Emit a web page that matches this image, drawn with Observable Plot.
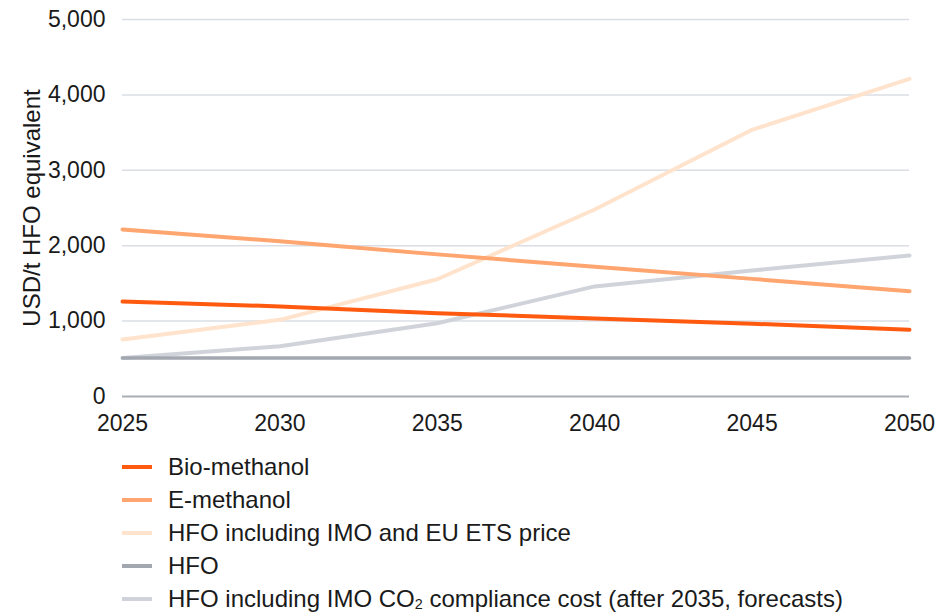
<!DOCTYPE html>
<html>
<head>
<meta charset="utf-8">
<script src="https://cdn.jsdelivr.net/npm/d3@7"></script>
<script src="https://cdn.jsdelivr.net/npm/@observablehq/plot@0.6"></script>
<style>
  html, body { margin: 0; padding: 0; background: #fff; }
  body { width: 952px; font-family: "Liberation Sans", Arial, Helvetica, sans-serif; color: #1a1a1a; }
  #legend { padding: 6px 0 0 122px; }
  .item { display: flex; align-items: center; height: 33px; font-size: 24px; white-space: nowrap; }
  .swatch { width: 30px; height: 4px; margin-right: 16px; flex: none; }
  sub { font-size: 0.6em; vertical-align: -0.15em; line-height: 0; }
</style>
</head>
<body>
<div id="chart"></div>
<div id="legend"></div>
<script>
// Fuel cost outlook, USD per tonne of HFO equivalent
const years = [2025, 2030, 2035, 2040, 2045, 2050];
const bioMethanol = [1260, 1195, 1105, 1035, 965, 885];
const eMethanol = [2215, 2060, 1885, 1720, 1560, 1397];
const hfoImoEts = [756, 1017, 1555, 2480, 3537, 4213];
const hfo = [512, 512, 512, 512, 512, 512];
const hfoImoCo2 = [512, 667, 972, 1460, 1671, 1870];
const yTicks = [0, 1000, 2000, 3000, 4000, 5000];

const seriesNames = [
  "Bio-methanol",
  "E-methanol",
  "HFO including IMO and EU ETS price",
  "HFO",
  "HFO including IMO CO₂ compliance cost (after 2035, forecasts)"
];
const seriesValues = [bioMethanol, eMethanol, hfoImoEts, hfo, hfoImoCo2];
const colors = ["#ff5a0f", "#ffa56f", "#ffe3cc", "#a3a7b0", "#d0d4da"];
const widths = [4, 4, 4, 3.5, 4];

const rows = seriesNames.flatMap((name, i) =>
  years.map((year, j) => ({series: name, year, value: seriesValues[i][j]}))
);

// Draw bottom-of-legend series first so Bio-methanol sits on top
const lineMarks = seriesNames.map((name, i) => i).reverse().map(i =>
  Plot.line(rows.filter(d => d.series === seriesNames[i]), {
    x: "year", y: "value", stroke: colors[i], strokeWidth: widths[i], strokeLinejoin: "round", strokeLinecap: "round"
  })
);

const chart = Plot.plot({
  width: 952,
  height: 444,
  marginLeft: 122,
  marginRight: 43,
  marginTop: 19,
  marginBottom: 48,
  style: {fontFamily: "'Liberation Sans', Arial, Helvetica, sans-serif", fontSize: "23px", color: "#1a1a1a", background: "#fff"},
  x: {domain: [2025, 2050]},
  y: {domain: [0, 5000]},
  marks: [
    Plot.ruleY(yTicks.filter(t => t > 0), {stroke: "#dadee4", strokeWidth: 1.5}),
    Plot.ruleY([0], {stroke: "#a9adb5", strokeWidth: 2}),
    Plot.axisX({ticks: years, tickFormat: d => String(d), tickSize: 0, tickPadding: 18, label: null}),
    Plot.axisY({ticks: yTicks, tickFormat: d3.format(","), tickSize: 0, tickPadding: 17,
      label: "USD/t HFO equivalent", labelAnchor: "center", labelArrow: "none", labelOffset: 100,
      fontSize: 23}),
    ...lineMarks
  ]
});
// Axis title a touch larger than the tick labels
chart.querySelectorAll("[aria-label='y-axis label'] text, [aria-label='y-axis label']").forEach(el => el.setAttribute("font-size", "24px"));
document.getElementById("chart").appendChild(chart);

const legend = document.getElementById("legend");
seriesNames.forEach((name, i) => {
  const item = document.createElement("div");
  item.className = "item";
  const sw = document.createElement("span");
  sw.className = "swatch";
  sw.style.background = colors[i];
  const label = document.createElement("span");
  label.innerHTML = name.replace("CO₂", "CO<sub>2</sub>");
  item.appendChild(sw);
  item.appendChild(label);
  legend.appendChild(item);
});
</script>
</body>
</html>
